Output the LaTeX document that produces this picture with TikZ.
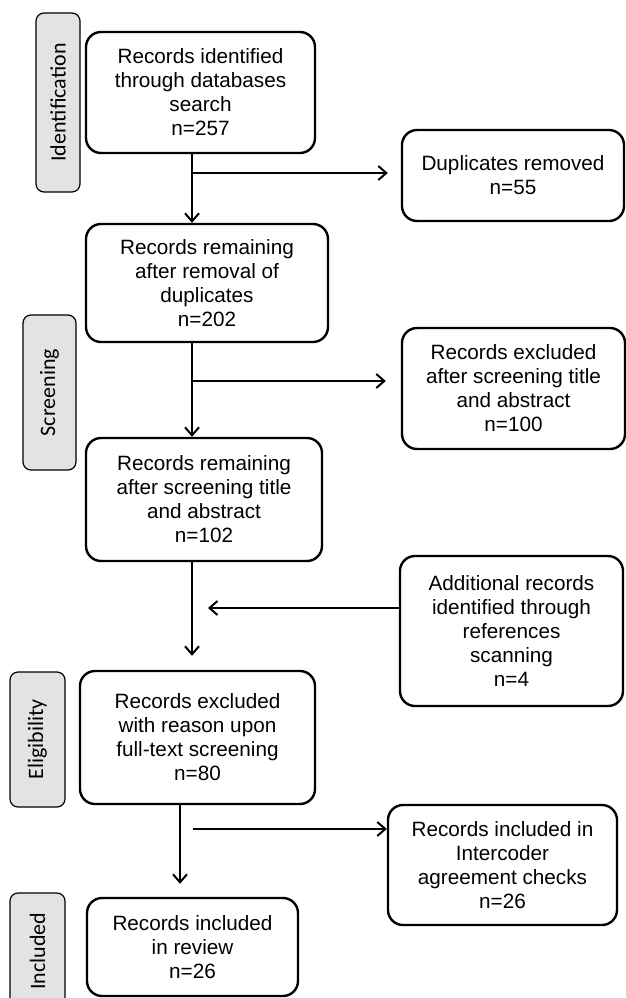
\documentclass[tikz,border=0pt]{standalone}
\usepackage{fontspec}
\setmainfont{Liberation Sans}
\newfontfamily\phasefont{Carlito}
\usetikzlibrary{arrows.meta}
\definecolor{phasegray}{HTML}{E3E3E3}

\begin{document}
\begin{tikzpicture}[x=1pt,y=-1pt,
	box/.style={draw, line width=2.4pt, rounded corners=15pt, align=center, inner sep=2pt, font=\fontsize{20.7}{24}\selectfont},
	phase/.style={draw, line width=1.2pt, fill=phasegray, rounded corners=8pt, rotate=90, inner sep=0pt, font=\phasefont\fontsize{22}{26}\selectfont},
	flow/.style={line width=2pt, -{Straight Barb[length=8pt,width=14pt]}}]
		%%%%% START %%%%%
		\useasboundingbox (0,0) rectangle (625,998);
		
		% phases
		\node[phase, minimum width=179pt, minimum height=44pt] (ident) at (58,102.5) {Identification};
		\node[phase, minimum width=155pt, minimum height=53pt] (screen) at (49.5,392.5) {Screening};
		\node[phase, minimum width=135pt, minimum height=55pt] (elig) at (37.5,739.5) {Eligibility};
		\node[phase, minimum width=116pt, minimum height=55pt] (incl) at (37.5,951) {Included};
		
		% main column
		\node[box, minimum width=229pt, minimum height=121pt] (search) at (200.5,92.5) {Records identified\\through databases\\search\\n=257};
		\node[box, minimum width=242pt, minimum height=118pt] (dedup) at (207,283) {Records remaining\\after removal of\\duplicates\\n=202};
		\node[box, minimum width=236pt, minimum height=123pt] (screened) at (204,499.5) {Records remaining\\after screening title\\and abstract\\n=102};
		\node[box, minimum width=235pt, minimum height=133pt] (fulltext) at (197.5,737.5) {Records excluded\\with reason upon\\full-text screening\\n=80};
		\node[box, minimum width=211pt, minimum height=98pt] (review) at (192.5,947) {Records included\\in review\\n=26};
		
		% side boxes
		\node[box, minimum width=222pt, minimum height=91pt] (dup) at (513,175.5) {Duplicates removed\\n=55};
		\node[box, minimum width=223pt, minimum height=121pt] (excl) at (513.5,388.5) {Records excluded\\after screening title\\and abstract\\n=100};
		\node[box, minimum width=223pt, minimum height=150pt] (extra) at (511.5,631) {Additional records\\identified through\\references\\scanning\\n=4};
		\node[box, minimum width=229pt, minimum height=120pt] (icr) at (502.5,865) {Records included in\\Intercoder\\agreement checks\\n=26};
		
		% connectors
		\coordinate (spine) at (192,0);
		\coordinate (spine2) at (180,0);
		\coordinate (fork1) at (192,173);
		\coordinate (fork2) at (192,381);
		\coordinate (join) at (208,608);
		\coordinate (fork4) at (193,829);
		
		\draw[flow] (search.south -| spine) -- (dedup.north -| spine);
		\draw[flow, shorten >=13pt] (fork1) -- (fork1 -| dup.west);
		\draw[flow] (dedup.south -| spine) -- (screened.north -| spine);
		\draw[flow, shorten >=15pt] (fork2) -- (fork2 -| excl.west);
		\draw[flow, shorten >=14pt] (screened.south -| spine) -- (fulltext.north -| spine);
		\draw[flow] (extra.west |- join) -- (join);
		\draw[flow, shorten >=13pt] (fulltext.south -| spine2) -- (review.north -| spine2);
		\draw[flow] (fork4) -- (fork4 -| icr.west);
		%%%%% END %%%%%
\end{tikzpicture}
\end{document}
